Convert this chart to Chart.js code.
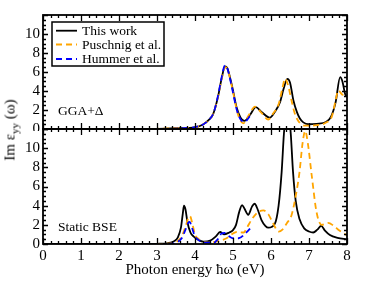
<!DOCTYPE html>
<html>
<head>
<meta charset="utf-8">
<script src="https://cdn.jsdelivr.net/npm/chart.js@4.4.1/dist/chart.umd.min.js"></script>
<style>
  body { margin: 0; background: #fff; }
  #wrap { position: relative; width: 374px; height: 289px; }
  canvas { position: absolute; left: 0; }
  #ylab {
    position: absolute; left: 11px; top: 130px;
    transform: translate(-50%, -50%) rotate(-90deg);
    font: 15px "Liberation Serif", serif; white-space: nowrap; color: #000;
  }
  #ylab sub { font-size: 11px; }
</style>
</head>
<body>
<div id="wrap">
  <canvas id="top" width="374" height="131" style="top:0"></canvas>
  <canvas id="bottom" width="374" height="170" style="top:119px"></canvas>
  <div id="ylab">Im ε<sub>yy</sub> (ω)</div>
</div>
<script>
// GGA+Delta panel
const ggaThisE = [0, 2.5, 3.0, 3.5, 3.8, 4.0, 4.2, 4.35, 4.48, 4.6, 4.7, 4.79, 4.85, 4.97, 5.1, 5.2, 5.3, 5.45, 5.6, 5.75, 5.97, 6.1, 6.24, 6.33, 6.43, 6.5, 6.59, 6.68, 6.76, 6.85, 6.98, 7.2, 7.46, 7.58, 7.7, 7.82, 7.88, 7.95, 8.0];
const ggaThisV = [0, 0, 0.02, 0.08, 0.12, 0.18, 0.45, 0.9, 1.6, 3.3, 5.3, 6.6, 6.4, 4.6, 2.2, 1.2, 0.85, 1.5, 2.3, 1.8, 1.2, 1.8, 2.85, 4.2, 5.28, 4.9, 3.0, 1.8, 1.1, 0.7, 0.5, 0.55, 0.77, 1.3, 2.8, 5.45, 5.0, 3.7, 3.4];
const ggaPuschE = [0, 2.5, 3.0, 3.5, 3.8, 4.0, 4.2, 4.35, 4.48, 4.6, 4.7, 4.79, 4.85, 4.97, 5.1, 5.18, 5.27, 5.42, 5.58, 5.75, 5.93, 6.05, 6.2, 6.3, 6.37, 6.45, 6.54, 6.62, 6.71, 6.8, 6.89, 7.2, 7.46, 7.6, 7.7, 7.77, 7.89, 8.0];
const ggaPuschV = [0, 0, 0.02, 0.08, 0.12, 0.18, 0.45, 0.9, 1.6, 3.3, 5.2, 6.5, 6.3, 4.5, 2.0, 1.0, 0.6, 1.5, 2.35, 1.7, 1.0, 1.6, 2.6, 4.3, 5.3, 4.6, 3.0, 1.7, 0.9, 0.5, 0.35, 0.4, 0.7, 1.3, 3.0, 4.06, 3.6, 3.6];
const ggaHummE = [3.4, 3.6, 3.8, 4.0, 4.2, 4.35, 4.48, 4.6, 4.7, 4.79, 4.85, 4.97, 5.1, 5.2, 5.3, 5.38, 5.45];
const ggaHummV = [0.0, 0.08, 0.12, 0.2, 0.45, 0.9, 1.6, 3.4, 5.4, 6.7, 6.4, 4.4, 2.0, 1.0, 0.75, 1.0, 1.4];

// Static BSE panel
const bseThisE = [0, 2.5, 3.0, 3.3, 3.45, 3.55, 3.63, 3.68, 3.71, 3.75, 3.8, 3.88, 3.96, 4.1, 4.22, 4.4, 4.55, 4.66, 4.76, 4.9, 5.0, 5.08, 5.16, 5.24, 5.3, 5.4, 5.5, 5.57, 5.65, 5.75, 5.85, 5.93, 6.1, 6.2, 6.28, 6.34, 6.43, 6.52, 6.58, 6.65, 6.75, 6.88, 7.0, 7.11, 7.22, 7.32, 7.42, 7.55, 7.75, 8.0];
const bseThisV = [0, 0, 0.02, 0.1, 0.3, 0.7, 1.7, 3.2, 4.0, 3.6, 2.3, 1.2, 0.8, 0.4, 0.25, 0.35, 0.8, 1.25, 1.0, 1.2, 1.45, 2.0, 3.3, 4.06, 3.7, 3.05, 3.9, 4.2, 3.6, 2.5, 1.9, 1.7, 2.1, 4.0, 7.5, 11.5, 15, 11.5, 7.5, 4.5, 2.6, 1.6, 1.3, 1.2, 1.5, 1.9, 1.4, 0.94, 0.65, 0.5];
const bsePuschE = [3.0, 3.3, 3.5, 3.65, 3.75, 3.83, 3.87, 3.92, 4.0, 4.1, 4.25, 4.39, 4.6, 4.83, 5.0, 5.1, 5.28, 5.38, 5.5, 5.65, 5.8, 5.93, 6.05, 6.2, 6.3, 6.42, 6.54, 6.65, 6.75, 6.83, 6.9, 6.97, 7.07, 7.2, 7.33, 7.5, 7.65, 7.8, 8.0];
const bsePuschV = [0.0, 0.05, 0.2, 0.8, 1.8, 2.8, 2.9, 2.3, 1.0, 0.5, 0.2, 0.15, 0.3, 0.6, 1.1, 1.25, 1.2, 1.8, 2.6, 3.3, 3.5, 3.1, 2.2, 1.3, 1.5, 2.2, 3.0, 5.0, 7.5, 10.5, 11.8, 10.5, 7.2, 3.3, 2.0, 2.2, 1.9, 1.4, 0.9];
const bseHummE = [3.3, 3.5, 3.65, 3.75, 3.82, 3.86, 3.92, 4.0, 4.1, 4.3, 4.5, 4.6, 4.7, 4.78, 4.9, 5.0, 5.15, 5.3, 5.45];
const bseHummV = [0.0, 0.15, 0.6, 1.5, 2.2, 2.3, 1.7, 0.8, 0.4, 0.15, 0.15, 0.5, 1.1, 1.15, 0.8, 0.6, 0.6, 1.0, 1.6];

const seriesNames = ['This work', 'Puschnig et al.', 'Hummer et al.'];
const seriesColors = ['#000000', '#ffa500', '#0000ff'];
const seriesDash = [[], [6, 4], [6, 4]];
const xTicks = [0, 1, 2, 3, 4, 5, 6, 7, 8];
const yTicks = [0, 2, 4, 6, 8, 10];

const FONT = '"Liberation Serif", serif';

function pts(xs, ys) {
  return xs.map((x, i) => ({ x: x, y: ys[i] }));
}

function mkSets(lists) {
  return lists.map((l, i) => ({
    label: seriesNames[i],
    data: pts(l[0], l[1]),
    borderColor: seriesColors[i],
    borderDash: seriesDash[i],
    borderWidth: 1.8,
    pointRadius: 0,
    fill: false,
    cubicInterpolationMode: 'monotone',
    clip: 0,
    order: 3 - i
  }));
}

// frame, inward ticks and panel label
function framePlugin(label, legend) {
  return {
    id: 'frame',
    afterDraw(chart) {
      const ctx = chart.ctx, a = chart.chartArea;
      const sx = chart.scales.x, sy = chart.scales.y;
      ctx.save();
      ctx.strokeStyle = '#000';
      ctx.lineWidth = 1.3;
      ctx.beginPath();
      for (let i = 0; i <= 40; i++) {
        const px = Math.round(sx.getPixelForValue(i * 0.2)) + 0.5;
        const len = i % 5 == 0 ? 6 : 3;
        ctx.moveTo(px, a.bottom); ctx.lineTo(px, a.bottom - len);
        ctx.moveTo(px, a.top); ctx.lineTo(px, a.top + len);
      }
      for (let i = 0; i <= 24; i++) {
        const py = Math.round(sy.getPixelForValue(i * 0.5)) + 0.5;
        const len = i % 4 == 0 ? 5 : 3;
        ctx.moveTo(a.left, py); ctx.lineTo(a.left + len, py);
        ctx.moveTo(a.right, py); ctx.lineTo(a.right - len, py);
      }
      ctx.stroke();
      ctx.lineWidth = 1.8;
      ctx.strokeRect(a.left, a.top, a.right - a.left, a.bottom - a.top);

      ctx.fillStyle = '#000';
      ctx.font = '13.5px ' + FONT;
      ctx.textBaseline = 'middle';
      ctx.textAlign = 'left';
      ctx.fillText(label.text, a.left + 15, label.y);

      if (legend) {
        ctx.lineWidth = 1.5;
        ctx.strokeRect(52, 22, 112, 44);
        const rows = [30.7, 44.5, 59];
        chart.data.datasets.forEach((ds, i) => {
          ctx.strokeStyle = ds.borderColor;
          ctx.lineWidth = 1.8;
          ctx.setLineDash(ds.borderDash);
          ctx.beginPath();
          ctx.moveTo(56, rows[i]); ctx.lineTo(77, rows[i]);
          ctx.stroke();
          ctx.setLineDash([]);
          ctx.fillText(ds.label, 82, rows[i] + 0.5);
        });
      }
      ctx.restore();
    }
  };
}

function panel(id, sets, showX, pad, label, legend) {
  return new Chart(document.getElementById(id), {
    type: 'line',
    data: { datasets: sets },
    options: {
      responsive: false,
      animation: false,
      layout: { padding: pad },
      plugins: { legend: { display: false }, tooltip: { enabled: false } },
      scales: {
        x: {
          type: 'linear', min: 0, max: 8,
          display: showX,
          grid: { display: false, drawTicks: false },
          border: { display: false },
          afterBuildTicks: s => { s.ticks = xTicks.map(v => ({ value: v })); },
          afterFit: s => {
            s.height = showX ? 45 : 0;
            s.paddingLeft = 0; s.paddingRight = 0;
          },
          ticks: { color: '#000', padding: 3, maxRotation: 0, autoSkip: false, font: { family: FONT, size: 15 } },
          title: {
            display: true, text: 'Photon energy ħω (eV)', color: '#000',
            font: { family: FONT, size: 15 }, padding: { top: 0, bottom: 10 }
          }
        },
        y: {
          min: 0, max: 12,
          grid: { display: false, drawTicks: false },
          border: { display: false },
          afterBuildTicks: s => { s.ticks = yTicks.map(v => ({ value: v })); },
          afterFit: s => {
            s.width = 43;
            s.paddingTop = 0; s.paddingBottom = 0;
          },
          ticks: { color: '#000', padding: 3, autoSkip: false, font: { family: FONT, size: 15 } }
        }
      }
    },
    plugins: [framePlugin(label, legend)]
  });
}

panel('top', mkSets([[ggaThisE, ggaThisV], [ggaPuschE, ggaPuschV], [ggaHummE, ggaHummV]]),
  false, { left: 0, right: 27, top: 15, bottom: 2 }, { text: 'GGA+Δ', y: 111 }, true);
panel('bottom', mkSets([[bseThisE, bseThisV], [bsePuschE, bsePuschV], [bseHummE, bseHummV]]),
  true, { left: 0, right: 27, top: 10, bottom: 0 }, { text: 'Static BSE', y: 108 }, false);
</script>
</body>
</html>
